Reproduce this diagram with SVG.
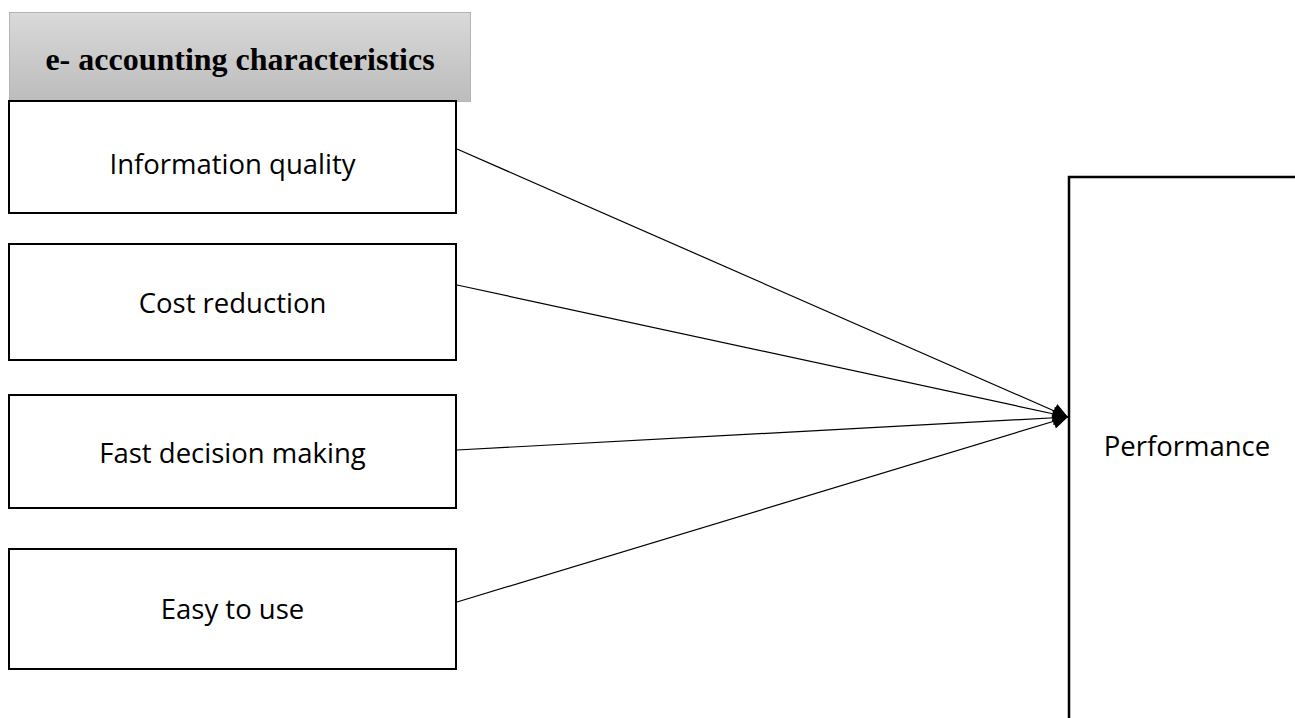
<svg xmlns="http://www.w3.org/2000/svg" width="1295" height="718" viewBox="0 0 1295 718">
<defs>
<linearGradient id="hdr" x1="0" y1="0" x2="0" y2="1">
<stop offset="0" stop-color="#d9d9d9"/>
<stop offset="1" stop-color="#bcbcbc"/>
</linearGradient>
<marker id="arr" viewBox="0 0 10 10" refX="10" refY="5" markerWidth="16" markerHeight="15" markerUnits="userSpaceOnUse" orient="auto">
<path d="M0,0 L10,5 L0,10 Z" fill="#000"/>
</marker>
<style>
.box{fill:#fff;stroke:#000;stroke-width:2}
.lbl{font-family:"Open Sans","Noto Sans",sans-serif;font-size:27.5px;fill:#000;text-anchor:middle}
.edge{stroke:#000;stroke-width:1.2;fill:none}
</style>
</defs>
<rect width="1295" height="718" fill="#fff"/>
<g id="header">
<rect x="9.5" y="12.5" width="461" height="89" fill="url(#hdr)" stroke="#b4b4b4" stroke-width="1"/>
<text x="240" y="70" font-family="'Liberation Serif',serif" font-weight="bold" font-size="32" text-anchor="middle" fill="#000">e- accounting characteristics</text>
</g>
<g id="n1">
<rect class="box" x="9" y="101" width="447" height="112"/>
<text class="lbl" x="232.5" y="174">Information quality</text>
</g>
<g id="n2">
<rect class="box" x="9" y="244" width="447" height="116"/>
<text class="lbl" x="232.5" y="313">Cost reduction</text>
</g>
<g id="n3">
<rect class="box" x="9" y="395" width="447" height="113"/>
<text class="lbl" x="232.5" y="463">Fast decision making</text>
</g>
<g id="n4">
<rect class="box" x="9" y="549" width="447" height="120"/>
<text class="lbl" x="232.5" y="619">Easy to use</text>
</g>
<g id="performance">
<path d="M1069,730 V177 H1300" fill="#fff" stroke="#000" stroke-width="2.5"/>
<text class="lbl" x="1187" y="456">Performance</text>
</g>
<g id="connectors">
<line class="edge" x1="457" y1="149" x2="1068" y2="417" marker-end="url(#arr)"/>
<line class="edge" x1="457" y1="285" x2="1068" y2="417" marker-end="url(#arr)"/>
<line class="edge" x1="457" y1="450" x2="1068" y2="417" marker-end="url(#arr)"/>
<line class="edge" x1="457" y1="602" x2="1068" y2="417" marker-end="url(#arr)"/>
</g>
</svg>
